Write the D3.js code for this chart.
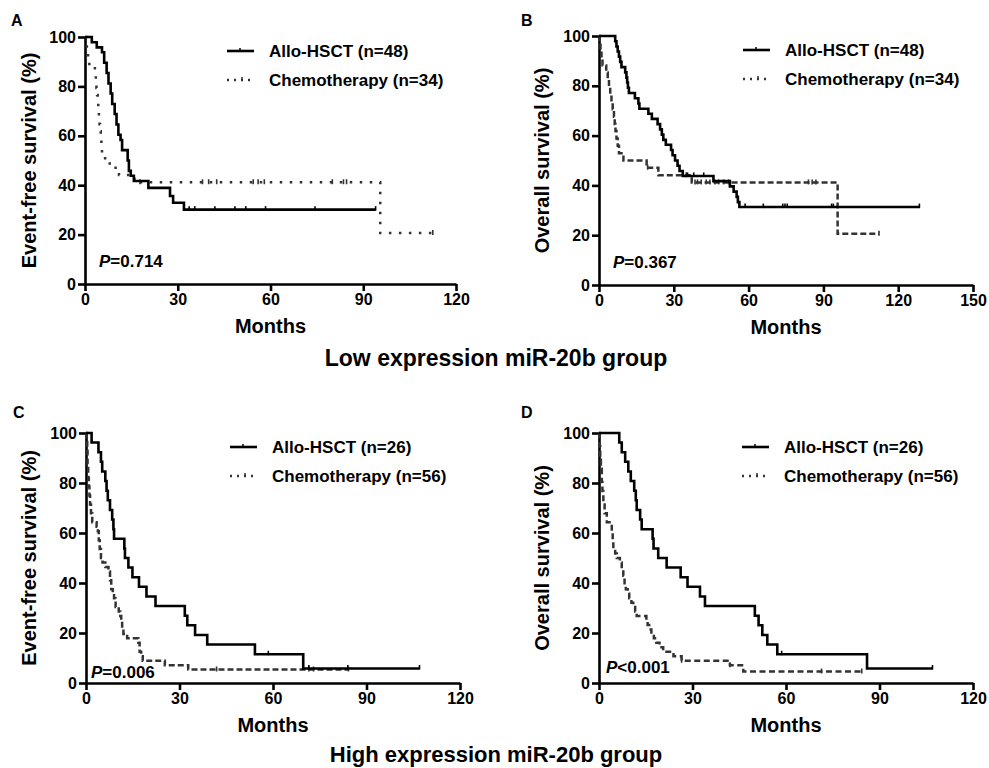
<!DOCTYPE html>
<html>
<head>
<meta charset="utf-8">
<script src="https://cdn.jsdelivr.net/npm/d3@7"></script>
<style>
  body { margin: 0; background: #fff; }
  text { font-family: Arial, "Liberation Sans", sans-serif; font-weight: bold; fill: #000; }
</style>
</head>
<body>
<svg id="chart" width="989" height="768"></svg>
<script>
// Kaplan-Meier steps: [months, survival %]
const alloA = [[0,100],[2.2,97.9],[3.8,95.8],[5.5,93.8],[6.2,89.6],[7,85.4],[7.6,81.2],[8.3,77.1],[8.8,72.9],[9.6,68.8],
  [10.2,64.6],[10.8,60.4],[11.5,58.3],[12,54.2],[13.8,50],[14.2,45.8],[14.8,43.8],[15.8,41.7],[20.5,38.9],[27.5,35.6],[28.5,32.9],[32,30.1]];
const alloAEnd = 94;
const alloACens = [33.7, 35.5, 42, 48.5, 52, 58.4, 74.4, 94];
const chemoA = [[0,100],[0.3,97.1],[0.6,94.1],[1,91.2],[1.4,88.2],[3.2,85.3],[3.5,82.4],[3.7,79.4],[3.9,76.5],[4.1,73.5],
  [4.3,70.6],[4.5,67.6],[4.7,64.7],[4.9,61.8],[5.1,58.8],[5.3,55.9],[5.5,52.9],[6.5,50],[8,47.1],[11,44.1],[16,41.2],[95.5,20.6]];
const chemoAEnd = 112.5;
const chemoACens = [17.8, 38, 40, 42.6, 54.4, 56, 58, 80, 83.6, 84.6, 112.5];

const alloB = [[0,100],[6.5,97.9],[7,95.8],[7.5,93.8],[8,91.7],[8.5,89.6],[9,87.5],[10.5,85.4],[11,83.3],[11.3,81.3],[11.6,79.2],
  [12,77.1],[14.4,75],[15.8,72.9],[16.2,70.8],[19.8,68.8],[21.2,66.7],[23.5,64.6],[24.5,62.5],[25.2,60.4],[25.8,58.3],[26.8,56.3],
  [28.9,54.2],[29.5,52.1],[30.5,50],[31.5,47.9],[32.3,45.8],[33.6,43.8],[45.9,41.7],[52.5,39.6],[54,37.5],[55.2,35.4],[55.7,33.3],[56.3,31.3]];
const alloBEnd = 128.7;
const alloBCens = [35.5, 38, 42, 58.6, 65.9, 73.7, 74.6, 75.5, 93.3, 94, 128.5];
const chemoB = [[0,100],[0.3,97.1],[0.6,94.1],[1,91.2],[1.4,88.2],[2.9,85.3],[3.5,82.4],[4,79.4],[4.5,76.5],[5,73.5],[5.5,70.6],
  [6,67.6],[6.3,64.7],[6.6,61.8],[7,58.8],[7.5,55.9],[8,52.9],[9.8,50],[19.1,47.1],[23.8,44.1],[37.2,41.2],[95.7,20.6]];
const chemoBEnd = 112.3;
const chemoBCens = [19.5, 35, 38.5, 39.5, 41, 43, 44.5, 46.5, 48, 50, 52, 84, 85.5, 87, 112.3];

const alloC = [[0,100],[1.8,96.2],[4,92.3],[4.8,88.5],[5.2,84.6],[6.2,80.8],[6.6,76.9],[7,73.1],[7.7,69.2],[8.4,65.4],[8.8,61.5],
  [9,57.7],[12.3,53.8],[12.5,50],[13.6,46.2],[14.9,42.3],[17,38.5],[19.4,34.6],[22.3,30.8],[31.7,26.9],[32.5,23.1],[35,19.2],
  [38.9,15.4],[54.2,11.5],[69.7,5.8]];
const alloCEnd = 107;
const alloCCens = [58.5, 71.5, 84, 107];
const chemoC = [[0,100],[0.2,96.4],[0.4,92.9],[0.5,87.5],[0.7,82.1],[0.9,78.6],[1.1,75],[1.3,71.4],[1.6,67.9],[2,64.3],[3.4,62.5],
  [3.8,60.7],[4.1,57.1],[4.4,53.6],[4.8,50],[5.3,48.2],[6.2,46.4],[7.2,44.6],[7.7,41.1],[8.1,37.5],[8.6,35.7],[9,33.9],[9.5,30.4],
  [10.5,28.6],[11,26.8],[11.3,25],[11.6,21.4],[12,19.6],[13.2,17.9],[16.8,16.1],[17.2,12.5],[17.7,10.7],[18.2,8.9],[25.3,7.1],[32.8,5.4]];
const chemoCEnd = 84.2;
const chemoCCens = [41.9, 71.5, 73, 84.2];

const alloD = [[0,100],[6.5,96.2],[7.3,92.3],[8.4,88.5],[9.4,84.6],[10.2,80.8],[11.3,76.9],[11.8,73.1],[12.1,69.2],[13.2,65.4],
  [13.7,61.5],[17.2,57.7],[17.5,53.8],[19,50],[21.7,46.2],[26.2,42.3],[28.4,38.5],[32.4,34.6],[34,30.8],[50,26.9],[51.2,23.1],
  [52.4,19.2],[54,15.4],[57.2,11.5],[86,5.8]];
const alloDEnd = 107;
const alloDCens = [58.6, 107];
const chemoD = [[0,100],[0.2,94.6],[0.4,89.3],[0.6,85.7],[0.9,80.4],[1.1,76.8],[1.4,71.4],[1.8,67.9],[2.5,64.3],[4.1,60.7],[4.4,57.1],
  [4.6,53.6],[5.2,51.8],[5.7,50],[6.7,48.2],[7.3,46.4],[7.8,42.9],[8.2,39.3],[8.6,37.5],[9.2,35.7],[9.7,33.9],[10.4,32.1],[11,30.4],
  [11.6,28.6],[12.1,26.8],[15.2,25],[15.6,23.2],[16.1,21.4],[16.8,19.6],[17.6,17.9],[18.4,16.1],[19.4,14.3],[20.6,12.5],[23.9,10.7],
  [26.5,8.9],[42,7.1],[46.3,4.6]];
const chemoDEnd = 84.3;
const chemoDCens = [26.5, 42, 71.4, 84.3];

const xTicksLowEFS = [0, 30, 60, 90, 120];
const xTicksLowOS = [0, 30, 60, 90, 120, 150];
const xTicksHigh = [0, 30, 60, 90, 120];
const yTicks = [0, 20, 40, 60, 80, 100];
const legendLow = ["Allo-HSCT (n=48)", "Chemotherapy (n=34)"];
const legendHigh = ["Allo-HSCT (n=26)", "Chemotherapy (n=56)"];
const pValues = ["=0.714", "=0.367", "=0.006", "<0.001"];
const groupTitles = ["Low expression miR-20b group", "High expression miR-20b group"];

const svg = d3.select('#chart');

const panels = [
  { tag: 'A', left: 85, right: 456, top: 37, bottom: 284, xTicks: xTicksLowEFS, title: 'Event-free survival (%)', titleX: 29,
    allo: alloA, alloEnd: alloAEnd, alloCens: alloACens, chemo: chemoA, chemoEnd: chemoAEnd, chemoCens: chemoACens,
    dash: '2.5,7.5', legend: legendLow, legX: 227, p: pValues[0], pX: 99, pY: 267, tagX: 11, tagY: 26 },
  { tag: 'B', left: 599, right: 973, top: 36, bottom: 285, xTicks: xTicksLowOS, title: 'Overall survival (%)', titleX: 542,
    allo: alloB, alloEnd: alloBEnd, alloCens: alloBCens, chemo: chemoB, chemoEnd: chemoBEnd, chemoCens: chemoBCens,
    dash: '6,3', legend: legendLow, legX: 743, p: pValues[1], pX: 613, pY: 268, tagX: 521, tagY: 26 },
  { tag: 'C', left: 86, right: 460, top: 433, bottom: 683, xTicks: xTicksHigh, title: 'Event-free survival (%)', titleX: 29,
    allo: alloC, alloEnd: alloCEnd, alloCens: alloCCens, chemo: chemoC, chemoEnd: chemoCEnd, chemoCens: chemoCCens,
    dash: '6,3', legend: legendHigh, legX: 230, p: pValues[2], pX: 91, pY: 678, tagX: 13, tagY: 418 },
  { tag: 'D', left: 599, right: 973, top: 433, bottom: 683, xTicks: xTicksHigh, title: 'Overall survival (%)', titleX: 542,
    allo: alloD, alloEnd: alloDEnd, alloCens: alloDCens, chemo: chemoD, chemoEnd: chemoDEnd, chemoCens: chemoDCens,
    dash: '6,3.5', legend: legendHigh, legX: 742, p: pValues[3], pX: 606, pY: 673, tagX: 521, tagY: 418 }
];

function survAt(steps, t) {
  let s = steps[0][1];
  steps.forEach(d => { if (d[0] <= t) s = d[1]; });
  return s;
}

function drawPanel(p) {
  const x = d3.scaleLinear().domain([0, d3.max(p.xTicks)]).range([p.left, p.right]);
  const y = d3.scaleLinear().domain([0, 100]).range([p.bottom, p.top]);
  const g = svg.append('g');

  const xa = g.append('g').attr('transform', `translate(0,${p.bottom})`)
    .call(d3.axisBottom(x).tickValues(p.xTicks).tickSize(7).tickSizeOuter(0).tickPadding(3));
  const ya = g.append('g').attr('transform', `translate(${p.left},0)`)
    .call(d3.axisLeft(y).tickValues(yTicks).tickSize(7).tickSizeOuter(0).tickPadding(2));
  [xa, ya].forEach(a => {
    a.selectAll('path, line').attr('stroke', '#000').attr('stroke-width', 2.6);
    a.selectAll('text').style('font-size', '16px').style('font-weight', 'bold').attr('fill', '#000');
  });

  const line = d3.line().x(d => x(d[0])).y(d => y(d[1])).curve(d3.curveStepAfter);

  const chemoPts = p.chemo.concat([[p.chemoEnd, p.chemo[p.chemo.length - 1][1]]]);
  g.append('path').attr('d', line(chemoPts)).attr('fill', 'none')
    .attr('stroke', '#333').attr('stroke-width', 2.5).attr('stroke-dasharray', p.dash);
  g.selectAll('.cc').data(p.chemoCens).enter().append('line')
    .attr('x1', d => x(d)).attr('x2', d => x(d))
    .attr('y1', d => y(survAt(p.chemo, d)) - 3).attr('y2', d => y(survAt(p.chemo, d)) + 2)
    .attr('stroke', '#333').attr('stroke-width', 1.6);

  const alloPts = p.allo.concat([[p.alloEnd, p.allo[p.allo.length - 1][1]]]);
  g.append('path').attr('d', line(alloPts)).attr('fill', 'none')
    .attr('stroke', '#000').attr('stroke-width', 2.6);
  g.selectAll('.ac').data(p.alloCens).enter().append('line')
    .attr('x1', d => x(d)).attr('x2', d => x(d))
    .attr('y1', d => y(survAt(p.allo, d)) - 3.5).attr('y2', d => y(survAt(p.allo, d)) + 1)
    .attr('stroke', '#000').attr('stroke-width', 1.6);

  // legend
  const ly = [p.top + 14, p.top + 43];
  g.append('line').attr('x1', p.legX).attr('x2', p.legX + 27).attr('y1', ly[0]).attr('y2', ly[0])
    .attr('stroke', '#000').attr('stroke-width', 2.6);
  g.append('line').attr('x1', p.legX + 13).attr('x2', p.legX + 13).attr('y1', ly[0] - 3).attr('y2', ly[0])
    .attr('stroke', '#000').attr('stroke-width', 1.5);
  g.append('line').attr('x1', p.legX).attr('x2', p.legX + 27).attr('y1', ly[1]).attr('y2', ly[1])
    .attr('stroke', '#333').attr('stroke-width', 2.5).attr('stroke-dasharray', '2,5');
  g.append('line').attr('x1', p.legX + 15).attr('x2', p.legX + 15).attr('y1', ly[1] - 3).attr('y2', ly[1])
    .attr('stroke', '#333').attr('stroke-width', 1.5);
  p.legend.forEach((t, i) => {
    g.append('text').attr('x', p.legX + 42).attr('y', ly[i] + 6).style('font-size', '17px').text(t);
  });

  // P value
  const pt = g.append('text').attr('x', p.pX).attr('y', p.pY).style('font-size', '17px');
  pt.append('tspan').style('font-style', 'italic').text('P');
  pt.append('tspan').text(p.p);

  // axis titles
  g.append('text').attr('transform', `translate(${p.titleX + 7},${(p.top + p.bottom) / 2}) rotate(-90)`)
    .attr('text-anchor', 'middle').style('font-size', '20px').text(p.title);
  g.append('text').attr('x', (p.left + p.right) / 2).attr('y', p.bottom + 49)
    .attr('text-anchor', 'middle').style('font-size', '20px').text('Months');

  g.append('text').attr('x', p.tagX).attr('y', p.tagY).style('font-size', '16px').text(p.tag);
}

panels.forEach(drawPanel);

svg.append('text').attr('x', 496).attr('y', 366).attr('text-anchor', 'middle')
  .style('font-size', '23px').text(groupTitles[0]);
svg.append('text').attr('x', 496).attr('y', 762).attr('text-anchor', 'middle')
  .style('font-size', '22px').text(groupTitles[1]);
</script>
</body>
</html>
